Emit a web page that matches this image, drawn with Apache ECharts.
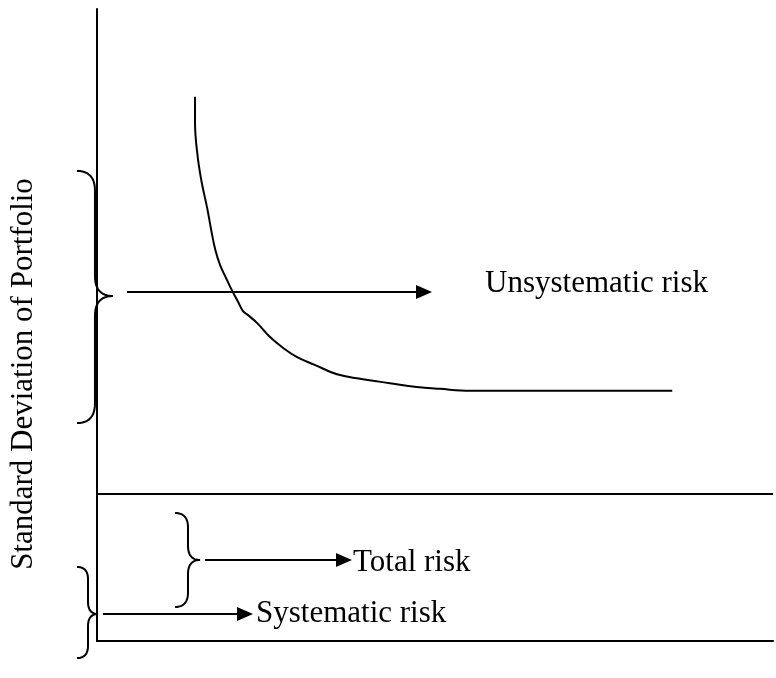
<!DOCTYPE html>
<html><head><meta charset="utf-8">
<script src="https://cdn.jsdelivr.net/npm/echarts@6/dist/echarts.min.js"></script>
<style>html,body{margin:0;padding:0;background:#fff}#c{width:776px;height:678px}</style>
</head><body><div id="c"></div>
<script>
// Diversification curve (axis scale 0-100 both ways)
const curveX = [14.5, 14.5, 14.9, 15.5, 16.3, 16.9, 17.5, 18.2, 19.1, 20.0, 20.9, 21.6, 22.3, 23.7, 25.6, 27.5, 29.6, 32.2, 35.5, 38.9, 43.3, 47.3, 50.7, 55.2, 62.6, 74.4, 85.1];
const curveY = [86.1, 82.0, 76.6, 72.5, 68.5, 65.0, 61.9, 59.5, 57.4, 55.4, 53.6, 52.2, 51.6, 50.3, 48.1, 46.4, 44.9, 43.7, 42.2, 41.5, 40.8, 40.2, 39.9, 39.6, 39.6, 39.6, 39.6];
const systematicLevel = 23.3;
// braces: outer ends x, spine x, tip x, top y, tip y, bottom y
const braceOuterX = [-2.96, 11.54, -2.96];
const braceSpineX = [-0.30, 13.46, -1.33];
const braceTipX = [2.37, 15.24, 0.15];
const braceTopY = [74.37, 20.25, 11.71];
const braceTipY = [54.59, 12.82, 4.27];
const braceBottomY = [34.49, 5.38, -2.69];
// arrows
const arrowStartX = [4.44, 15.98, 0.89];
const arrowEndX = [49.56, 37.72, 23.08];
const arrowY = [55.22, 12.82, 4.27];
// labels
const riskLabels = ['Unsystematic risk', 'Total risk', 'Systematic risk'];
const labelX = [57.40, 37.87, 23.52];
const labelY = [56.49, 12.34, 4.27];
const yAxisTitle = 'Standard Deviation of Portfolio';

const FONT = '"Liberation Serif", "Times New Roman", serif';

function quad(p0, c, p1, n, out) {
  for (let i = 1; i <= n; i++) {
    const t = i / n, u = 1 - t;
    out.push([u*u*p0[0] + 2*u*t*c[0] + t*t*p1[0], u*u*p0[1] + 2*u*t*c[1] + t*t*p1[1]]);
  }
}

const chart = echarts.init(document.getElementById('c'), null, {renderer: 'canvas'});
const axisCommon = {
  type: 'value', min: 0, max: 100,
  axisLine: {show: true, onZero: false, lineStyle: {color: '#000', width: 2}},
  axisTick: {show: false}, axisLabel: {show: false}, splitLine: {show: false}
};
chart.setOption({
  animation: false,
  backgroundColor: '#fff',
  grid: {left: 97, right: 3, top: 9, bottom: 37},
  xAxis: axisCommon,
  yAxis: axisCommon,
  graphic: [{
    type: 'text', x: 24, y: 374, rotation: Math.PI / 2,
    style: {text: yAxisTitle, fontSize: 31, fontFamily: FONT, fill: '#000', align: 'center', verticalAlign: 'middle'}
  }],
  series: [
    {
      type: 'line', symbol: 'none', smooth: 0.4,
      data: curveX.map((x, i) => [x, curveY[i]]),
      lineStyle: {color: '#000', width: 2},
      markLine: {
        silent: true, symbol: 'none', label: {show: false},
        lineStyle: {color: '#000', width: 2, type: 'solid'},
        data: [{yAxis: systematicLevel}]
      }
    },
    {
      type: 'custom', clip: false, silent: true,
      data: braceOuterX.map((v, i) => [v, braceSpineX[i], braceTipX[i], braceTopY[i], braceTipY[i], braceBottomY[i]]),
      encode: {x: [0, 1, 2], y: [3, 4, 5]},
      renderItem(params, api) {
        const pTop = api.coord([api.value(0), api.value(3)]);
        const sTop = api.coord([api.value(1), api.value(3)]);
        const pTip = api.coord([api.value(2), api.value(4)]);
        const pBot = api.coord([api.value(0), api.value(5)]);
        const X = sTop[0];
        const r = Math.abs(X - pTop[0]) * 1.1;
        const pts = [pTop];
        quad(pTop, [X, pTop[1]], [X, pTop[1] + r], 12, pts);
        pts.push([X, pTip[1] - r]);
        quad([X, pTip[1] - r], [X, pTip[1]], pTip, 12, pts);
        quad(pTip, [X, pTip[1]], [X, pTip[1] + r], 12, pts);
        pts.push([X, pBot[1] - r]);
        quad([X, pBot[1] - r], [X, pBot[1]], pBot, 12, pts);
        return {type: 'polyline', shape: {points: pts}, style: {fill: null, stroke: '#000', lineWidth: 2}};
      }
    },
    {
      type: 'custom', clip: false, silent: true,
      data: arrowStartX.map((v, i) => [v, arrowEndX[i], arrowY[i]]),
      encode: {x: [0, 1], y: 2},
      renderItem(params, api) {
        const p1 = api.coord([api.value(0), api.value(2)]);
        const p2 = api.coord([api.value(1), api.value(2)]);
        const L = 16, H = 7;
        return {type: 'group', children: [
          {type: 'line', shape: {x1: p1[0], y1: p1[1], x2: p2[0] - L + 2, y2: p2[1]}, style: {stroke: '#000', lineWidth: 2}},
          {type: 'polygon', shape: {points: [[p2[0], p2[1]], [p2[0] - L, p2[1] - H], [p2[0] - L, p2[1] + H]]}, style: {fill: '#000'}}
        ]};
      }
    },
    {
      type: 'custom', clip: false, silent: true,
      data: labelX.map((v, i) => [v, labelY[i], riskLabels[i]]),
      encode: {x: 0, y: 1},
      renderItem(params, api) {
        const p = api.coord([api.value(0), api.value(1)]);
        return {type: 'text', x: p[0], y: p[1], style: {
          text: riskLabels[params.dataIndex], fontSize: 31, fontFamily: FONT, fill: '#000', align: 'left', verticalAlign: 'middle'
        }};
      }
    }
  ]
});
</script></body></html>
